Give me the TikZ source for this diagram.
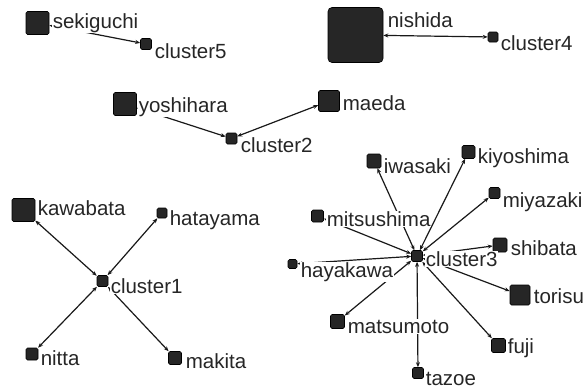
\documentclass[tikz,border=0pt]{standalone}
\usepackage{fontspec}
\setmainfont{Liberation Sans}
\usetikzlibrary{arrows.meta}
\begin{document}
\begin{tikzpicture}[x=1pt,y=-1pt,
  sq/.style={draw=black, fill=black!85, rounded corners=1.5pt, inner sep=0pt, line width=0.6pt, minimum size=#1},
  lbl/.style={anchor=base west, fill=white, inner sep=0.6pt, text=black!85, font=\fontsize{20.5}{21}\selectfont},
  link/.style={{Stealth[length=5pt,width=4pt]}-{Stealth[length=5pt,width=4pt]}, line width=1.2pt, draw=black!90}]
\useasboundingbox (0,0) rectangle (587,389);
% squares
\node[sq=23pt] (sekiguchi) at (37.5,23) {};
\node[sq=11pt] (cluster5) at (146,44) {};
\node[sq=55pt, rounded corners=4pt] (nishida) at (355.5,35) {};
\node[sq=10pt] (cluster4) at (493,37) {};
\node[sq=23pt] (yoshihara) at (125,104) {};
\node[sq=11pt] (cluster2) at (231.5,138.5) {};
\node[sq=21pt] (maeda) at (329,101) {};
\node[sq=23pt] (kawabata) at (23.5,210) {};
\node[sq=10pt] (hatayama) at (162,213) {};
\node[sq=11pt] (cluster1) at (102.5,281) {};
\node[sq=12pt] (nitta) at (32,354) {};
\node[sq=13pt] (makita) at (175,358) {};
\node[sq=14pt] (iwasaki) at (374,161) {};
\node[sq=13pt] (kiyoshima) at (468.5,152) {};
\node[sq=11pt] (miyazaki) at (494.5,193) {};
\node[sq=12pt] (mitsushima) at (317.5,216) {};
\node[sq=14pt] (shibata) at (500,245) {};
\node[sq=9pt] (hayakawa) at (292.5,264) {};
\node[sq=11pt] (cluster3) at (417,256) {};
\node[sq=20pt] (torisu) at (520,295) {};
\node[sq=14pt] (matsumoto) at (337.5,321.5) {};
\node[sq=14pt] (fuji) at (498.5,345.5) {};
\node[sq=11pt] (tazoe) at (418,373) {};
% edges
\draw[link] (sekiguchi) -- (cluster5);
\draw[link] (nishida) -- (cluster4);
\draw[link] (yoshihara) -- (cluster2);
\draw[link] (cluster2) -- (maeda);
\draw[link] (kawabata) -- (cluster1);
\draw[link] (cluster1) -- (hatayama);
\draw[link] (nitta) -- (cluster1);
\draw[link] (cluster1) -- (makita);
\foreach \m in {iwasaki,kiyoshima,miyazaki,mitsushima,shibata,hayakawa,torisu,matsumoto,fuji,tazoe}
  \draw[link] (cluster3) -- (\m);
% labels
\node[lbl] (sekiguchi-l) at (52,28) {sekiguchi};
\node[lbl] (cluster5-l) at (154,58) {cluster5};
\node[lbl] (nishida-l) at (387,27) {nishida};
\node[lbl] (cluster4-l) at (500,50) {cluster4};
\node[lbl] (yoshihara-l) at (138,112) {yoshihara};
\node[lbl] (cluster2-l) at (240,152) {cluster2};
\node[lbl] (maeda-l) at (342,110) {maeda};
\node[lbl] (kawabata-l) at (37,215) {kawabata};
\node[lbl] (hatayama-l) at (169,225) {hatayama};
\node[lbl] (cluster1-l) at (110,293) {cluster1};
\node[lbl] (nitta-l) at (40,365) {nitta};
\node[lbl] (makita-l) at (185,368) {makita};
\node[lbl] (iwasaki-l) at (383,173) {iwasaki};
\node[lbl] (kiyoshima-l) at (477,163) {kiyoshima};
\node[lbl] (miyazaki-l) at (502,207) {miyazaki};
\node[lbl] (mitsushima-l) at (326,226) {mitsushima};
\node[lbl] (shibata-l) at (510,255) {shibata};
\node[lbl] (hayakawa-l) at (300,277) {hayakawa};
\node[lbl] (cluster3-l) at (425,266) {cluster3};
\node[lbl] (torisu-l) at (533,303) {torisu};
\node[lbl] (matsumoto-l) at (347,333) {matsumoto};
\node[lbl] (fuji-l) at (507,353) {fuji};
\node[lbl] (tazoe-l) at (425,385) {tazoe};
\end{tikzpicture}
\end{document}
